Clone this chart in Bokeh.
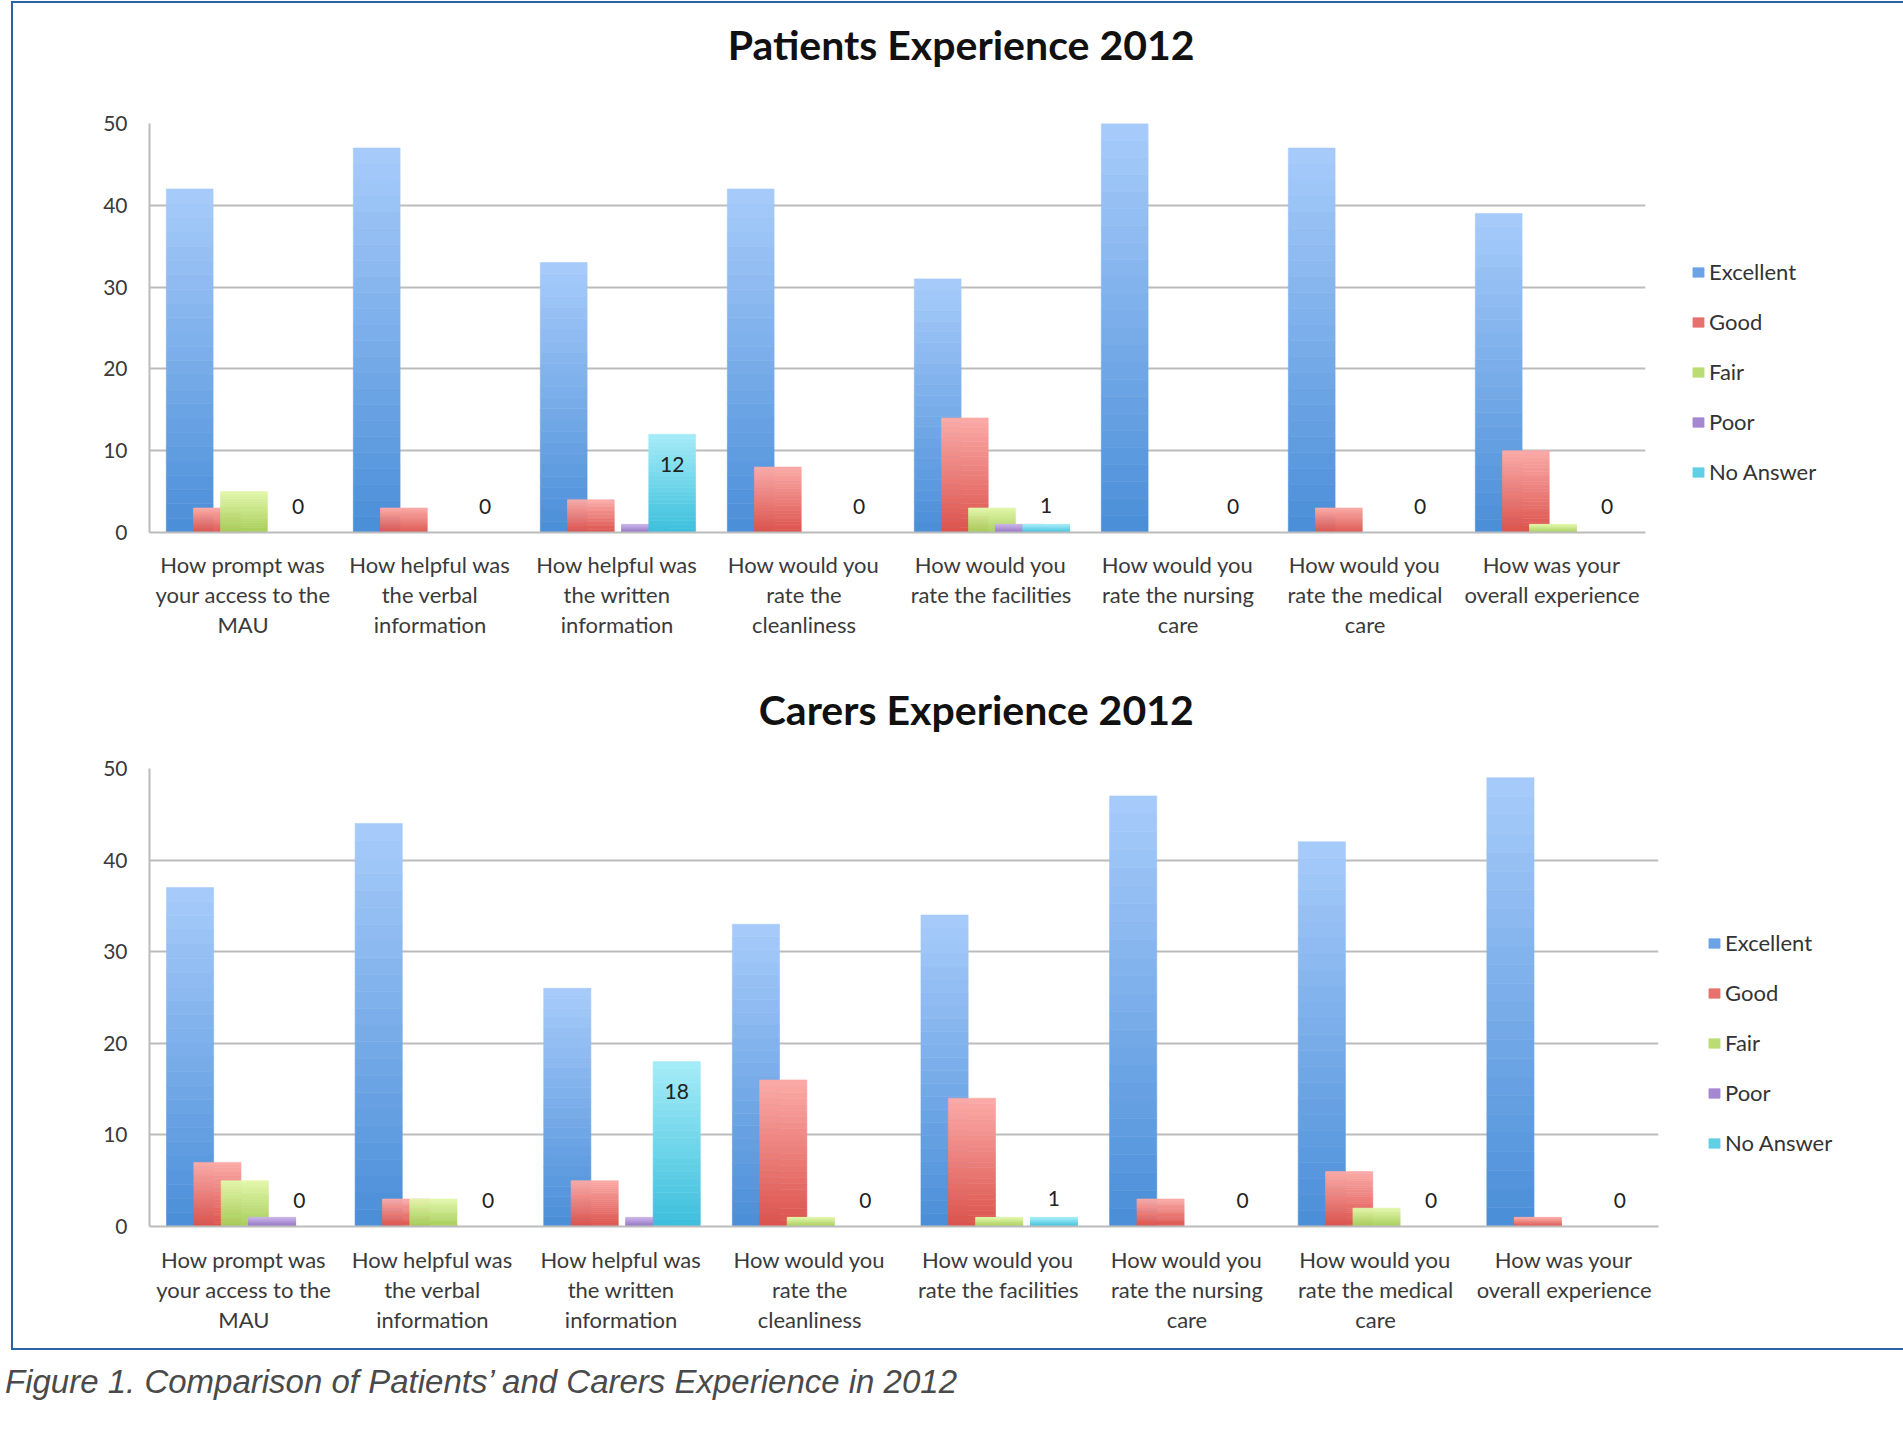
from bokeh.plotting import figure
from bokeh.models import (ColumnDataSource, FixedTicker, LinearAxis, Range1d, Legend,
                          LegendItem, Div, Grid)
from bokeh.layouts import column
from bokeh.core.properties import value
from bokeh.embed import file_html
from bokeh.resources import INLINE

# ---------------- data ----------------
categories = [
    "How prompt was\nyour access to the\nMAU",
    "How helpful was\nthe verbal\ninformation",
    "How helpful was\nthe written\ninformation",
    "How would you\nrate the\ncleanliness",
    "How would you\nrate the facilities",
    "How would you\nrate the nursing\ncare",
    "How would you\nrate the medical\ncare",
    "How was your\noverall experience",
]
series = ["Excellent", "Good", "Fair", "Poor", "No Answer"]

patients_excellent = [42, 47, 33, 42, 31, 50, 47, 39]
patients_good = [3, 3, 4, 8, 14, 0, 3, 10]
patients_fair = [5, 0, 0, 0, 3, 0, 0, 1]
patients_poor = [0, 0, 1, 0, 1, 0, 0, 0]
patients_no_answer = [0, 0, 12, 0, 1, 0, 0, 0]

carers_excellent = [37, 44, 26, 33, 34, 47, 42, 49]
carers_good = [7, 3, 5, 16, 14, 3, 6, 1]
carers_fair = [5, 3, 0, 1, 1, 0, 2, 0]
carers_poor = [1, 0, 1, 0, 0, 0, 0, 0]
carers_no_answer = [0, 0, 18, 0, 1, 0, 0, 0]

y_ticks = [0, 10, 20, 30, 40, 50]

# ---------------- styles ----------------
FONT = "Lato"
TEXT_COL = "#3a3a3a"
GRID_COL = "#bcbcbc"
# (top/light, bottom/dark)
colors = {
    "Excellent": ("#a8ccfb", "#4a8ed8"),
    "Good": ("#fbaba8", "#dc524c"),
    "Fair": ("#e2f7ab", "#a6cd58"),
    "Poor": ("#c9b4e8", "#9270c4"),
    "No Answer": ("#a6ecf9", "#3bbfdc"),
}
centers = [0.215, 0.36, 0.505, 0.65, 0.795]
bar_w = 0.25
N_SEG = 24


def mix(c_dark, c_light, t):
    a = [int(c_dark[i:i + 2], 16) for i in (1, 3, 5)]
    b = [int(c_light[i:i + 2], 16) for i in (1, 3, 5)]
    return "#%02x%02x%02x" % tuple(round(a[k] + (b[k] - a[k]) * t) for k in range(3))


def no_ticks(ax):
    ax.major_tick_out = 0
    ax.major_tick_in = 0
    ax.minor_tick_out = 0
    ax.minor_tick_in = 0


def make_chart(title_text, values, frame_w, frame_h, top_border, bottom_border,
               right_border, title_x, title_standoff, legend_loc, first_standoff):
    p = figure(frame_width=frame_w, frame_height=frame_h,
               x_range=Range1d(0, 8), y_range=Range1d(0, 50),
               x_axis_type=None, y_axis_type=None,
               output_backend="svg", toolbar_location=None,
               min_border_left=136, min_border_right=right_border,
               min_border_top=top_border, min_border_bottom=bottom_border,
               background_fill_color="white", border_fill_color="white")
    p.outline_line_color = None

    # chart title, drawn as the single label of an axis above the frame
    tax = LinearAxis(ticker=FixedTicker(ticks=[title_x]))
    tax.major_label_overrides = {title_x: title_text}
    tax.major_label_text_font = FONT
    tax.major_label_text_font_size = "41px"
    tax.major_label_text_font_style = "bold"
    tax.major_label_text_color = "#111111"
    tax.major_label_standoff = title_standoff
    tax.axis_line_color = None
    no_ticks(tax)
    p.add_layout(tax, "above")

    # y axis
    yax = LinearAxis(ticker=FixedTicker(ticks=y_ticks))
    yax.major_label_text_font = FONT
    yax.major_label_text_font_size = "21px"
    yax.major_label_text_color = TEXT_COL
    no_ticks(yax)
    yax.axis_line_color = GRID_COL
    yax.axis_line_width = 2
    yax.major_label_standoff = 22
    p.add_layout(yax, "left")

    grid = Grid(dimension=1, ticker=FixedTicker(ticks=y_ticks),
                grid_line_color=GRID_COL, grid_line_width=2)
    p.add_layout(grid, "center")

    # category labels: three stacked axes, one per text line
    tick_pos = [i + 0.5 for i in range(len(categories))]
    lines = [c.split("\n") for c in categories]
    for li in range(3):
        ax = LinearAxis(ticker=FixedTicker(ticks=tick_pos))
        ax.major_label_overrides = {
            tick_pos[i]: (lines[i][li] if li < len(lines[i]) else "")
            for i in range(len(categories))}
        ax.major_label_text_font = FONT
        ax.major_label_text_font_size = "22px"
        ax.major_label_text_color = TEXT_COL
        no_ticks(ax)
        if li == 0:
            ax.axis_line_color = GRID_COL
            ax.axis_line_width = 2
            ax.major_label_standoff = first_standoff
        else:
            ax.axis_line_color = None
            ax.major_label_standoff = 0
        p.add_layout(ax, "below")

    # bars with vertical gradient (drawn as thin slices of each bar)
    legend_items = []
    for s_idx, (name, vals) in enumerate(zip(series, values)):
        light, dark = colors[name]
        L, R, B, T, C = [], [], [], [], []
        for i, v in enumerate(vals):
            if v <= 0:
                continue
            cx = i + centers[s_idx]
            for k in range(N_SEG):
                L.append(cx - bar_w / 2)
                R.append(cx + bar_w / 2)
                B.append(v * k / N_SEG)
                T.append(v * (k + 1) / N_SEG)
                C.append(mix(dark, light, (k + 0.5) / N_SEG))
        src = ColumnDataSource(dict(left=L, right=R, bottom=B, top=T, color=C))
        r = p.quad(left="left", right="right", bottom="bottom", top="top",
                   source=src, fill_color="color", line_color="color",
                   line_width=0.6)
        legend_items.append(LegendItem(label=name, renderers=[r], index=N_SEG // 3))

    # data labels for "No Answer"
    ppu = frame_h / 50.0
    na = values[-1]
    lx, ly, lt = [], [], []
    for i, v in enumerate(na):
        lx.append(i + centers[-1])
        if v * ppu >= 60:
            ly.append(v - 30 / ppu)
        else:
            ly.append(max(26 / ppu, v + 19 / ppu))
        lt.append(str(v))
    p.text(x=lx, y=ly, text=lt, text_align="center", text_baseline="middle",
           text_font=value(FONT), text_font_size="21px", text_color="#222222")

    legend = Legend(items=legend_items, location=legend_loc,
                    glyph_width=14, glyph_height=12, label_standoff=4,
                    label_height=26, spacing=23, padding=0, margin=0,
                    border_line_color=None, background_fill_alpha=0,
                    label_text_font=FONT, label_text_font_size="22px",
                    label_text_color="#333333")
    p.add_layout(legend, "right")
    return p


p1 = make_chart("Patients Experience 2012",
                [patients_excellent, patients_good, patients_fair,
                 patients_poor, patients_no_answer],
                frame_w=1496, frame_h=409, top_border=120, bottom_border=123,
                right_border=252, title_x=4.34, title_standoff=55,
                legend_loc=(46, 47), first_standoff=18)

p2 = make_chart("Carers Experience 2012",
                [carers_excellent, carers_good, carers_fair,
                 carers_poor, carers_no_answer],
                frame_w=1509, frame_h=458, top_border=113, bottom_border=122,
                right_border=239, title_x=4.383, title_standoff=35,
                legend_loc=(49, 70), first_standoff=19)

box = column(p1, p2,
             styles={"border": "2px solid #2c63a3",
                     "margin-left": "11px", "margin-top": "1px",
                     "margin-right": "3px"})

caption = Div(text="Figure 1. Comparison of Patients\u2019 and Carers Experience in 2012",
              width=1200,
              styles={"font-family": "'Liberation Sans Narrow', 'Liberation Sans'",
                      "font-style": "italic", "font-size": "33px",
                      "color": "#4a4a4a", "margin-top": "8px"})

layout = column(box, caption)

open("out.html", "w").write(file_html(layout, INLINE))
